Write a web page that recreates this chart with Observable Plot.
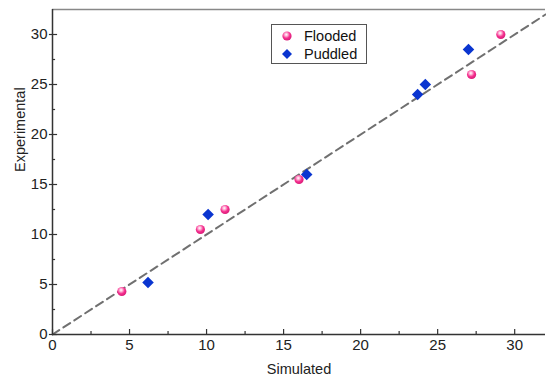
<!DOCTYPE html>
<html>
<head>
<meta charset="utf-8">
<script src="https://cdn.jsdelivr.net/npm/d3@7"></script>
<script src="https://cdn.jsdelivr.net/npm/@observablehq/plot@0.6"></script>
<style>
  html, body { margin: 0; padding: 0; background: #fff; }
  #wrap { position: relative; width: 546px; height: 380px; font-family: "Liberation Sans", Arial, sans-serif; }
  #legend { position: absolute; left: 271px; top: 24px; width: 94px; height: 38px; border: 1.5px solid #555; background: #fff; font-size: 14.5px; color: #111; }
  #legend .row { position: absolute; left: 0; height: 18px; display: flex; align-items: center; }
  #legend svg { margin-left: 10px; }
  #legend span { margin-left: 12px; }
</style>
</head>
<body>
<div id="wrap"><div id="legend"></div></div>
<script>
// Data
const floodedSim = [4.5, 9.6, 11.2, 16.0, 27.2, 29.1];
const floodedExp = [4.3, 10.5, 12.5, 15.5, 26.0, 30.0];
const puddledSim = [6.2, 10.1, 16.5, 23.7, 24.2, 27.0];
const puddledExp = [5.2, 12.0, 16.0, 24.0, 25.0, 28.5];
const oneToOne = [0, 32];
const xTicks = [0, 5, 10, 15, 20, 25, 30];
const xMinor = [2.5, 7.5, 12.5, 17.5, 22.5, 27.5];
const yTicks = [0, 5, 10, 15, 20, 25, 30];
const yMinor = [2.5, 7.5, 12.5, 17.5, 22.5, 27.5];
const seriesNames = ["Flooded", "Puddled"];

const flooded = floodedSim.map((x, i) => ({x, y: floodedExp[i]}));
const puddled = puddledSim.map((x, i) => ({x, y: puddledExp[i]}));
const diag = oneToOne.map(v => ({x: v, y: v}));

const pink = "#f5308f";
const blue = "#0a35d0";
const axisColor = "#333";

const chart = Plot.plot({
  width: 546,
  height: 380,
  marginLeft: 52,
  marginRight: 1,
  marginTop: 9,
  marginBottom: 46,
  style: {fontFamily: '"Liberation Sans", Arial, sans-serif', fontSize: "15px", color: "#222", background: "#fff"},
  x: {domain: [0, 32]},
  y: {domain: [0, 32.5]},
  marks: [
    Plot.ruleY([32.5], {stroke: "#888", strokeWidth: 1.5}),
    Plot.line(diag, {x: "x", y: "y", stroke: "#707070", strokeWidth: 2, strokeDasharray: "8,5"}),
    Plot.dot(flooded, {x: "x", y: "y", r: 4.6, fill: "url(#pinkGrad)", stroke: "none"}),
    Plot.dot(puddled, {x: "x", y: "y", r: 5.2, symbol: "diamond2", fill: blue, stroke: "none"}),
    Plot.ruleX(xTicks, {y1: 0, y2: 0.5, stroke: axisColor, strokeWidth: 1.2}),
    Plot.ruleX(xMinor, {y1: 0, y2: 0.3, stroke: axisColor, strokeWidth: 1.2}),
    Plot.ruleY(yTicks, {x1: -0.2, x2: 0.33, stroke: axisColor, strokeWidth: 1.2}),
    Plot.ruleY(yMinor, {x1: 0, x2: 0.2, stroke: axisColor, strokeWidth: 1.2}),
    Plot.ruleX([0], {stroke: axisColor, strokeWidth: 1.5}),
    Plot.ruleY([0], {stroke: axisColor, strokeWidth: 1.5}),
    Plot.axisX({ticks: xTicks, tickSize: 0, tickPadding: 5, label: null, fontSize: 15}),
    Plot.axisY({ticks: yTicks, tickSize: 0, tickPadding: 5, label: null, fontSize: 15}),
    Plot.text(["Simulated"], {frameAnchor: "bottom", dy: 39, fontSize: 14.5, fill: "#222"}),
    Plot.text(["Experimental"], {frameAnchor: "left", dx: -32, rotate: -90, fontSize: 14.5, fill: "#222"})
  ]
});

// gradient for spherical pink markers
const ns = "http://www.w3.org/2000/svg";
const defs = document.createElementNS(ns, "defs");
defs.innerHTML = `<radialGradient id="pinkGrad" cx="0.42" cy="0.35" r="0.65">
  <stop offset="0" stop-color="#ffffff"/>
  <stop offset="0.25" stop-color="#ffb3d6"/>
  <stop offset="0.6" stop-color="${pink}"/>
  <stop offset="1" stop-color="#d81b77"/>
</radialGradient>`;
chart.insertBefore(defs, chart.firstChild);

const wrap = document.getElementById("wrap");
wrap.insertBefore(chart, wrap.firstChild);

// legend overlay
const legend = document.getElementById("legend");
const markerSvg = [
  `<svg width="10" height="10" viewBox="-5 -5 10 10"><defs><radialGradient id="pinkGrad2" cx="0.42" cy="0.35" r="0.65"><stop offset="0" stop-color="#fff"/><stop offset="0.25" stop-color="#ffb3d6"/><stop offset="0.6" stop-color="${pink}"/><stop offset="1" stop-color="#d81b77"/></radialGradient></defs><circle r="4.6" fill="url(#pinkGrad2)"/></svg>`,
  `<svg width="10" height="12" viewBox="-5 -6 10 12"><path d="M0,-5L5,0L0,5L-5,0Z" fill="${blue}"/></svg>`
];
seriesNames.forEach((name, i) => {
  const row = document.createElement("div");
  row.className = "row";
  row.style.top = (2 + i * 18) + "px";
  row.innerHTML = markerSvg[i] + `<span>${name}</span>`;
  legend.appendChild(row);
});
</script>
</body>
</html>
